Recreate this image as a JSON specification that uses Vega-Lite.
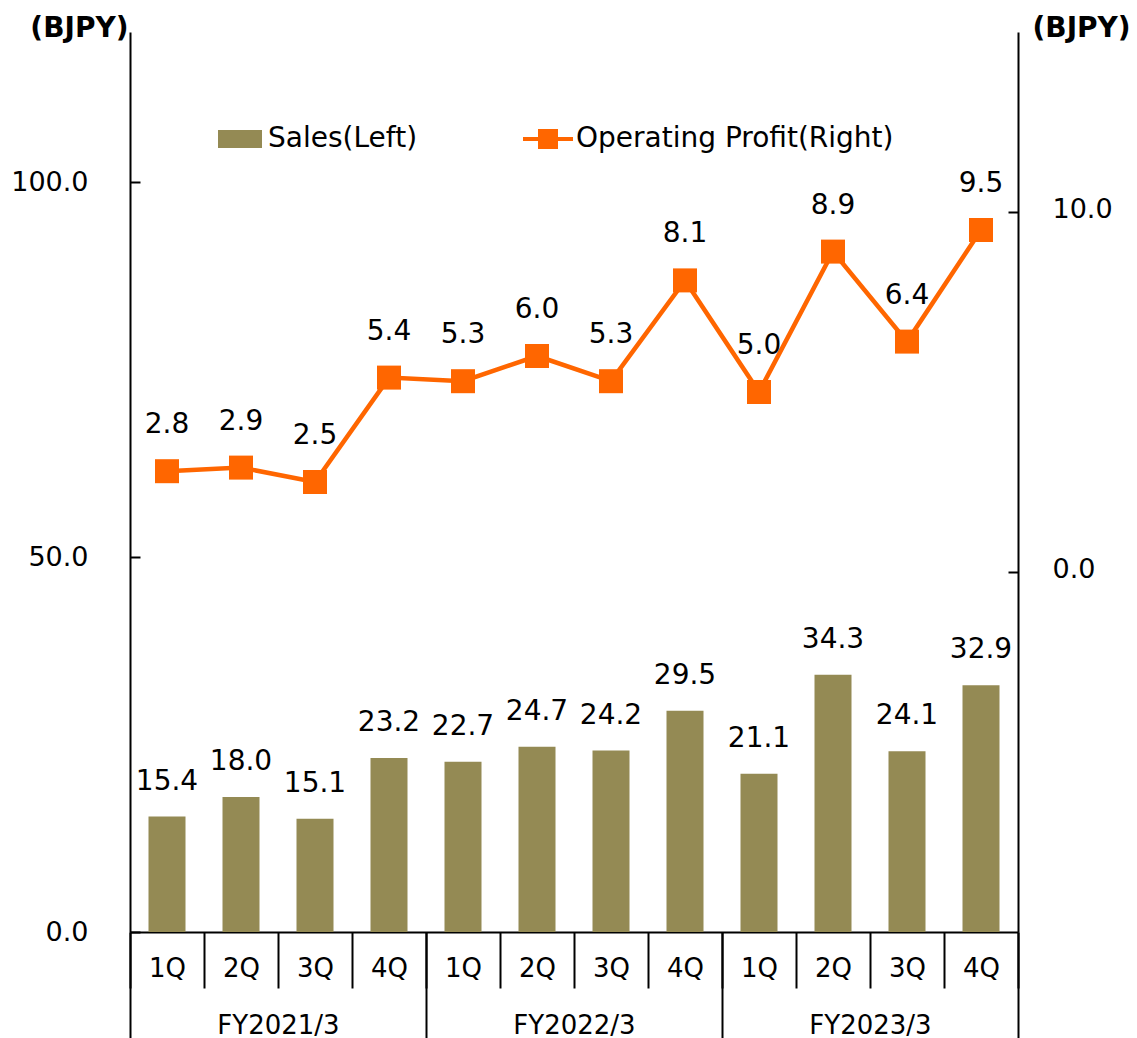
{
  "$schema": "https://vega.github.io/schema/vega-lite/v6.json",
  "autosize": "none",
  "width": 888,
  "height": 900,
  "padding": {"left": 130, "top": 32, "right": 119, "bottom": 106},
  "background": "white",
  "config": {
    "font": "DejaVu Sans",
    "view": {"stroke": null},
    "axis": {"labelColor": "black", "titleColor": "black", "domainColor": "black", "tickColor": "black", "domainWidth": 2, "tickWidth": 2, "grid": false}
  },
  "data": {"values": [
    {"period": "2021-1Q", "fy": "FY2021/3", "sales": 15.4, "op": 2.8},
    {"period": "2021-2Q", "fy": "FY2021/3", "sales": 18.0, "op": 2.9},
    {"period": "2021-3Q", "fy": "FY2021/3", "sales": 15.1, "op": 2.5},
    {"period": "2021-4Q", "fy": "FY2021/3", "sales": 23.2, "op": 5.4},
    {"period": "2022-1Q", "fy": "FY2022/3", "sales": 22.7, "op": 5.3},
    {"period": "2022-2Q", "fy": "FY2022/3", "sales": 24.7, "op": 6.0},
    {"period": "2022-3Q", "fy": "FY2022/3", "sales": 24.2, "op": 5.3},
    {"period": "2022-4Q", "fy": "FY2022/3", "sales": 29.5, "op": 8.1},
    {"period": "2023-1Q", "fy": "FY2023/3", "sales": 21.1, "op": 5.0},
    {"period": "2023-2Q", "fy": "FY2023/3", "sales": 34.3, "op": 8.9},
    {"period": "2023-3Q", "fy": "FY2023/3", "sales": 24.1, "op": 6.4},
    {"period": "2023-4Q", "fy": "FY2023/3", "sales": 32.9, "op": 9.5}
  ]},
  "encoding": {
    "color": {
      "datum": "Sales(Left)",
      "type": "nominal",
      "scale": {"domain": ["Sales(Left)", "Operating Profit(Right)"], "range": ["#948A54", "#FF6600"]},
      "legend": {
        "title": null,
        "orient": "none",
        "legendX": 85,
        "legendY": 82,
        "direction": "horizontal",
        "padding": 0,
        "symbolSize": 2500,
        "labelFontSize": 28,
        "labelLimit": 0,
        "labelColor": "black",
        "labelOffset": 3,
        "columnPadding": 105,
        "encode": {
          "symbols": {
            "update": {
              "shape": {"signal": "datum.value === 'Sales(Left)' ? 'M-0.88,-0.36H0.88V0.36H-0.88Z' : 'M-1,-0.08H1V0.08H-1Z M-0.4,-0.4H0.4V0.4H-0.4Z'"},
              "fill": {"signal": "datum.value === 'Sales(Left)' ? '#948A54' : '#FF6600'"},
              "fillOpacity": {"value": 1},
              "opacity": {"value": 1},
              "strokeWidth": {"value": 0}
            }
          }
        }
      }
    }
  },
  "layer": [
    {
      "encoding": {
        "x": {
          "field": "period",
          "type": "nominal",
          "sort": null,
          "scale": {"paddingInner": 0, "paddingOuter": 0},
          "axis": {
            "title": null,
            "orient": "bottom",
            "tickBand": "extent",
            "tickSize": 56,
            "labelPadding": -33,
            "labelFontSize": 26,
            "labelAngle": 0,
            "labelExpr": "split(datum.value, '-')[1]"
          }
        }
      },
      "layer": [
        {
          "encoding": {
            "y": {
              "field": "sales",
              "type": "quantitative",
              "scale": {"domain": [0, 120], "nice": false},
              "axis": {
                "orient": "left",
                "values": [0, 50, 100],
                "format": ".1f",
                "labelFontSize": 27,
                "tickSize": -10,
                "labelPadding": 52,
                "title": "(BJPY)",
                "titleAngle": 0,
                "titleAlign": "right",
                "titleBaseline": "middle",
                "titleX": -2,
                "titleY": -4,
                "titleFontSize": 28,
                "titleFontWeight": "bold"
              }
            }
          },
          "layer": [
            {"mark": {"type": "bar", "width": {"band": 0.5}}},
            {
              "mark": {"type": "text", "baseline": "alphabetic", "dy": -27, "fontSize": 28, "color": "black"},
              "encoding": {"text": {"field": "sales", "type": "quantitative", "format": ".1f"}, "color": {"value": "black"}}
            }
          ]
        },
        {
          "encoding": {
            "y": {
              "field": "op",
              "type": "quantitative",
              "scale": {"domain": [-10, 15], "nice": false},
              "axis": {
                "orient": "right",
                "values": [0, 10],
                "format": ".1f",
                "labelFontSize": 27,
                "tickSize": -10,
                "labelPadding": 44,
                "labelOffset": -3,
                "title": "(BJPY)",
                "titleAngle": 0,
                "titleAlign": "left",
                "titleBaseline": "middle",
                "titleX": 14,
                "titleY": -4,
                "titleFontSize": 28,
                "titleFontWeight": "bold"
              }
            },
            "color": {"datum": "Operating Profit(Right)", "type": "nominal"}
          },
          "layer": [
            {"mark": {"type": "line", "strokeWidth": 4.5}},
            {"mark": {"type": "square", "size": 576, "opacity": 1, "filled": true}},
            {
              "mark": {"type": "text", "baseline": "alphabetic", "dy": -38, "fontSize": 28, "color": "black"},
              "encoding": {"text": {"field": "op", "type": "quantitative", "format": ".1f"}, "color": {"value": "black"}}
            }
          ]
        }
      ],
      "resolve": {"scale": {"y": "independent"}, "axis": {"y": "independent"}}
    },
    {
      "mark": {"type": "text", "text": "", "opacity": 0},
      "encoding": {
        "color": {"value": "black"},
        "x": {
          "field": "fy",
          "type": "nominal",
          "sort": null,
          "scale": {"paddingInner": 0, "paddingOuter": 0},
          "axis": {
            "title": null,
            "orient": "bottom",
            "domain": false,
            "tickBand": "extent",
            "tickSize": 112,
            "labelPadding": -32,
            "labelFontSize": 26,
            "labelAngle": 0
          }
        }
      }
    }
  ],
  "resolve": {"scale": {"x": "independent"}, "axis": {"x": "independent"}}
}
